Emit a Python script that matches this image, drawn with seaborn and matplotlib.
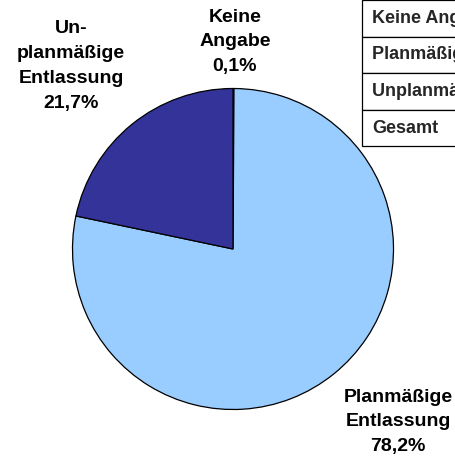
import matplotlib
matplotlib.use("Agg")
import matplotlib.pyplot as plt
import seaborn as sns

# ---- data ----
categories = ["Keine Angabe", "Planmäßige Entlassung", "Unplanmäßige Entlassung"]
values = [0.1, 78.2, 21.7]
slice_labels = ["Keine\nAngabe\n0,1%", "Planmäßige\nEntlassung\n78,2%", "Un-\nplanmäßige\nEntlassung\n21,7%"]
colors = ["#99CCFF", "#99CCFF", "#333399"]
table_rows = ["Keine Angabe", "Planmäßige Entlassung", "Unplanmäßige Entlassung", "Gesamt"]

sns.set_theme(style="white")
plt.rcParams["font.family"] = ["Liberation Sans", "DejaVu Sans"]

W, H = 456, 463
fig = plt.figure(figsize=(W / 100, H / 100), dpi=100)
ax = fig.add_axes([0, 0, 1, 1])

cx, cy, r = 233, H - 249, 160.5
ax.pie(values, colors=colors, startangle=90, counterclock=False,
       center=(cx, cy), radius=r, frame=True,
       wedgeprops=dict(edgecolor="black", linewidth=0.9))
ax.set_xlim(0, W)
ax.set_ylim(0, H)
ax.set_aspect("auto")
ax.set_axis_off()

# labels
label_pos = [(235, H - 42), (398, H - 422), (71, H - 66)]
for txt, (x, y) in zip(slice_labels, label_pos):
    ax.text(x, y, txt, ha="center", va="center", fontsize=14,
            fontweight="bold", linespacing=1.6, color="black")

# table (partly off-canvas on the right)
x0 = 362
tw = 240
row_h = 36.6
tbl = ax.table(cellText=[[t] for t in table_rows], cellLoc="left",
               bbox=[x0 / W, (H - row_h * len(table_rows)) / H, tw / W,
                     row_h * len(table_rows) / H])
tbl.auto_set_font_size(False)
for (i, j), cell in tbl.get_celld().items():
    cell.set_edgecolor("black")
    cell.set_linewidth(0.9)
    cell.set_facecolor("white")
    cell.PAD = 10 / tw
    cell.get_text().set_fontsize(13)
    cell.get_text().set_fontweight("bold")

fig.savefig("out.png", dpi=100)
